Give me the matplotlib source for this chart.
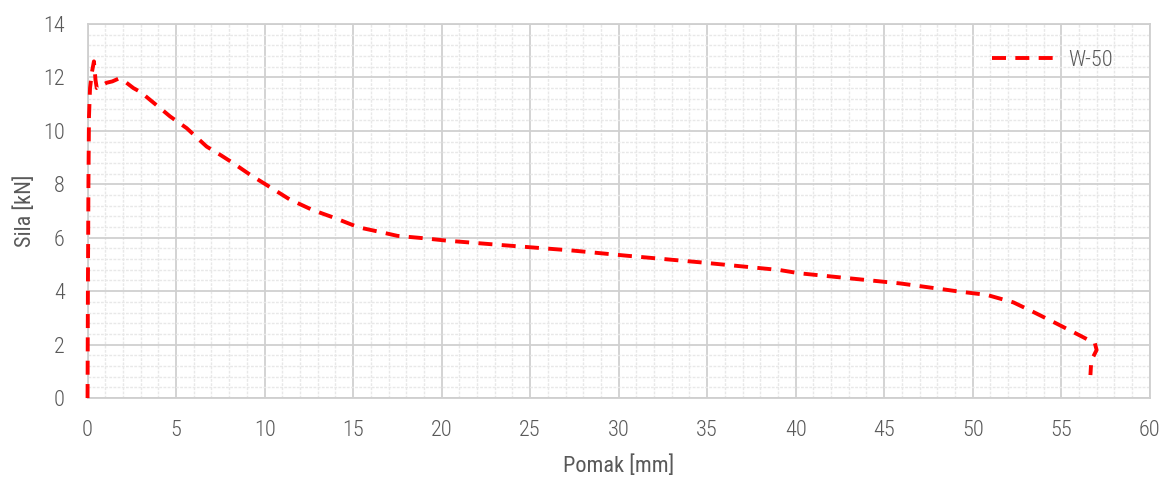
import matplotlib
matplotlib.use("Agg")
import matplotlib.pyplot as plt
from matplotlib.ticker import MultipleLocator
from matplotlib import font_manager

# Data (displacement in mm, force in kN)
pomak = [0.0, 0.02, 0.05, 0.08, 0.14, 0.25, 0.36, 0.40, 0.45, 0.52, 0.8, 1.08, 1.4, 1.74, 2.1,
         2.59, 3.0, 3.53, 4.1, 4.66, 5.6, 6.73, 7.5, 8.23, 9.2, 10.1, 11.4, 12.7, 14.0,
         15.3, 16.7, 17.5, 19.0, 20.3, 23.3, 27.4, 30.4, 34.6, 39.1, 40.2, 45.9,
         49.3, 50.8, 52.3, 53.4, 54.7, 56.0, 56.9, 57.0, 56.85, 56.7, 56.65]
sila = [0.0, 4.0, 8.0, 10.5, 11.6, 12.2, 12.6, 12.3, 11.9, 11.6, 11.7, 11.8, 11.85, 11.95, 11.85,
        11.6, 11.45, 11.16, 10.85, 10.54, 10.1, 9.41, 9.1, 8.79, 8.35, 7.98, 7.44, 7.04, 6.73,
        6.39, 6.19, 6.07, 5.98, 5.89, 5.73, 5.52, 5.33, 5.08, 4.79, 4.67, 4.29,
        3.98, 3.86, 3.58, 3.23, 2.8, 2.36, 2.05, 1.8, 1.6, 1.42, 0.86]

series_name = "W-50"
x_label = "Pomak [mm]"
y_label = "Sila [kN]"

avail = {f.name for f in font_manager.fontManager.ttflist}
fam = "Roboto Condensed" if "Roboto Condensed" in avail else "Liberation Sans"
plt.rcParams['font.family'] = [fam, 'DejaVu Sans']
plt.rcParams['font.weight'] = 300

fig = plt.figure(figsize=(11.72, 4.79), dpi=100)
ax = fig.add_axes([0.0747, 0.169, 0.9063, 0.781])

ax.plot(pomak, sila, color="#ff0000", lw=2.8, dashes=(3.6, 2.4), label=series_name,
        dash_capstyle="butt", clip_on=False, zorder=5)

ax.set_xlim(0, 60)
ax.set_ylim(0, 14)
ax.xaxis.set_major_locator(MultipleLocator(5))
ax.xaxis.set_minor_locator(MultipleLocator(1))
ax.yaxis.set_major_locator(MultipleLocator(2))
ax.yaxis.set_minor_locator(MultipleLocator(0.4))

ax.grid(which="major", color="#d0d0d0", lw=1.3)
ax.grid(which="minor", color="#e8e8e8", lw=1.0, ls=(0, (2, 1)))
ax.set_axisbelow(True)
for s in ax.spines.values():
    s.set_color("#cfcfcf")
    s.set_linewidth(1.3)

ax.tick_params(which="both", length=0, labelsize=16, labelcolor="#595959")
ax.tick_params(axis="x", pad=16)
ax.tick_params(axis="y", pad=16.5)
ax.set_xlabel(x_label, fontsize=16, color="#595959", labelpad=10)
ax.set_ylabel(y_label, fontsize=16, color="#595959", labelpad=5)

leg = ax.legend(loc="upper right", frameon=False, fontsize=16, handlelength=3.1,
                handletextpad=0.3, borderaxespad=0.6, bbox_to_anchor=(0.986, 0.99))
for t in leg.get_texts():
    t.set_color("#595959")

fig.savefig("out.png", dpi=100)
